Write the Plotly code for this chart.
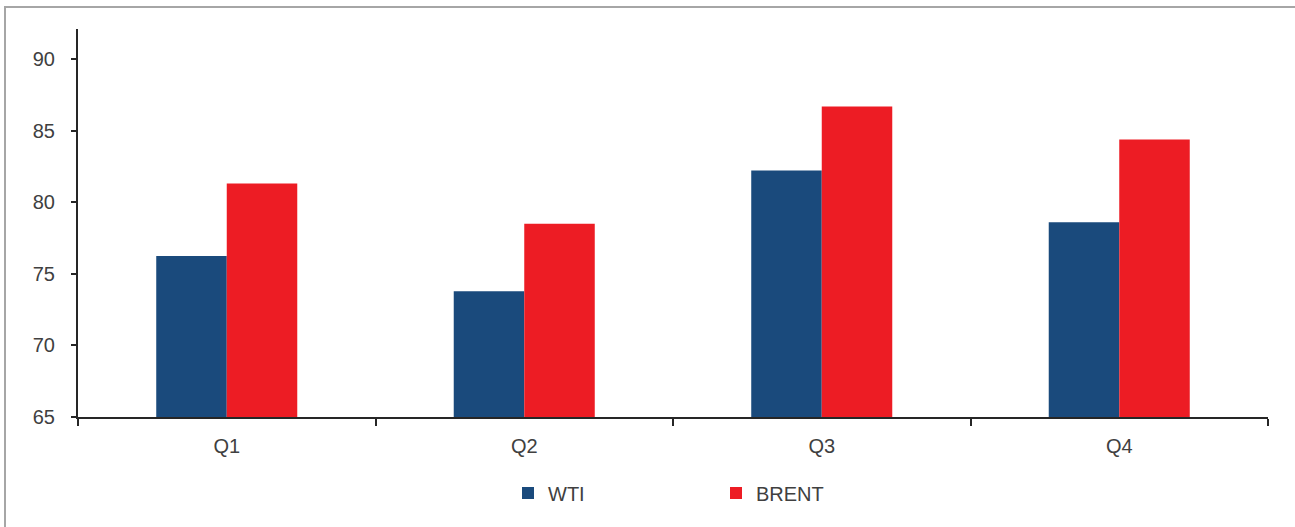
import plotly.graph_objects as go

# Quarterly average crude prices (USD/bbl)
quarters = ["Q1", "Q2", "Q3", "Q4"]
wti = [76.24, 73.79, 82.22, 78.61]
brent = [81.31, 78.50, 86.68, 84.39]

y_ticks = [65, 70, 75, 80, 85, 90]

WTI_COLOR = "#1a4a7c"
BRENT_COLOR = "#ed1c24"
TEXT_COLOR = "#404040"
FONT = "Liberation Sans, Arial, Helvetica, sans-serif"
FONT_SIZE = 20

fig = go.Figure()
fig.add_trace(go.Bar(name="WTI", x=quarters, y=wti, marker=dict(color=WTI_COLOR, line=dict(width=0))))
fig.add_trace(go.Bar(name="BRENT", x=quarters, y=brent, marker=dict(color=BRENT_COLOR, line=dict(width=0))))

fig.update_layout(
    width=1295,
    height=527,
    margin=dict(l=78, r=27, t=29, b=110),
    paper_bgcolor="white",
    plot_bgcolor="white",
    barmode="group",
    bargap=0.526,
    bargroupgap=0,
    font=dict(family=FONT, size=FONT_SIZE, color=TEXT_COLOR),
    showlegend=True,
    legend=dict(
        orientation="h",
        x=(522 - 78 - 14) / 1190,
        xanchor="left",
        y=-0.196,
        yanchor="middle",
        entrywidth=163,
        entrywidthmode="pixels",
        font=dict(family=FONT, size=FONT_SIZE, color=TEXT_COLOR),
        itemclick=False,
    ),
    xaxis=dict(
        type="category",
        showline=True,
        linecolor="#262626",
        linewidth=2,
        ticks="outside",
        tickson="boundaries",
        ticklen=7,
        tickwidth=2,
        tickcolor="#262626",
        showgrid=False,
        zeroline=False,
        tickfont=dict(size=FONT_SIZE, color=TEXT_COLOR),
        ticklabelstandoff=10,
    ),
    yaxis=dict(
        range=[65, 92.1],
        tickvals=y_ticks,
        showline=True,
        linecolor="#262626",
        linewidth=2,
        ticks="outside",
        ticklen=5,
        tickwidth=2,
        tickcolor="#262626",
        showgrid=False,
        zeroline=False,
        tickfont=dict(size=FONT_SIZE, color=TEXT_COLOR),
        ticklabelstandoff=12,
    ),
    shapes=[
        # frame around the chart (top and left edges)
        dict(type="line", xref="paper", yref="paper",
             x0=(4 - 78) / 1190, x1=(1300 - 78) / 1190,
             y0=(417 - 7) / 388, y1=(417 - 7) / 388,
             line=dict(color="#a6a6a6", width=2)),
        dict(type="line", xref="paper", yref="paper",
             x0=(5 - 78) / 1190, x1=(5 - 78) / 1190,
             y0=(417 - 7) / 388, y1=(417 - 530) / 388,
             line=dict(color="#a6a6a6", width=2)),
    ],
)

fig.write_html("out.html")
